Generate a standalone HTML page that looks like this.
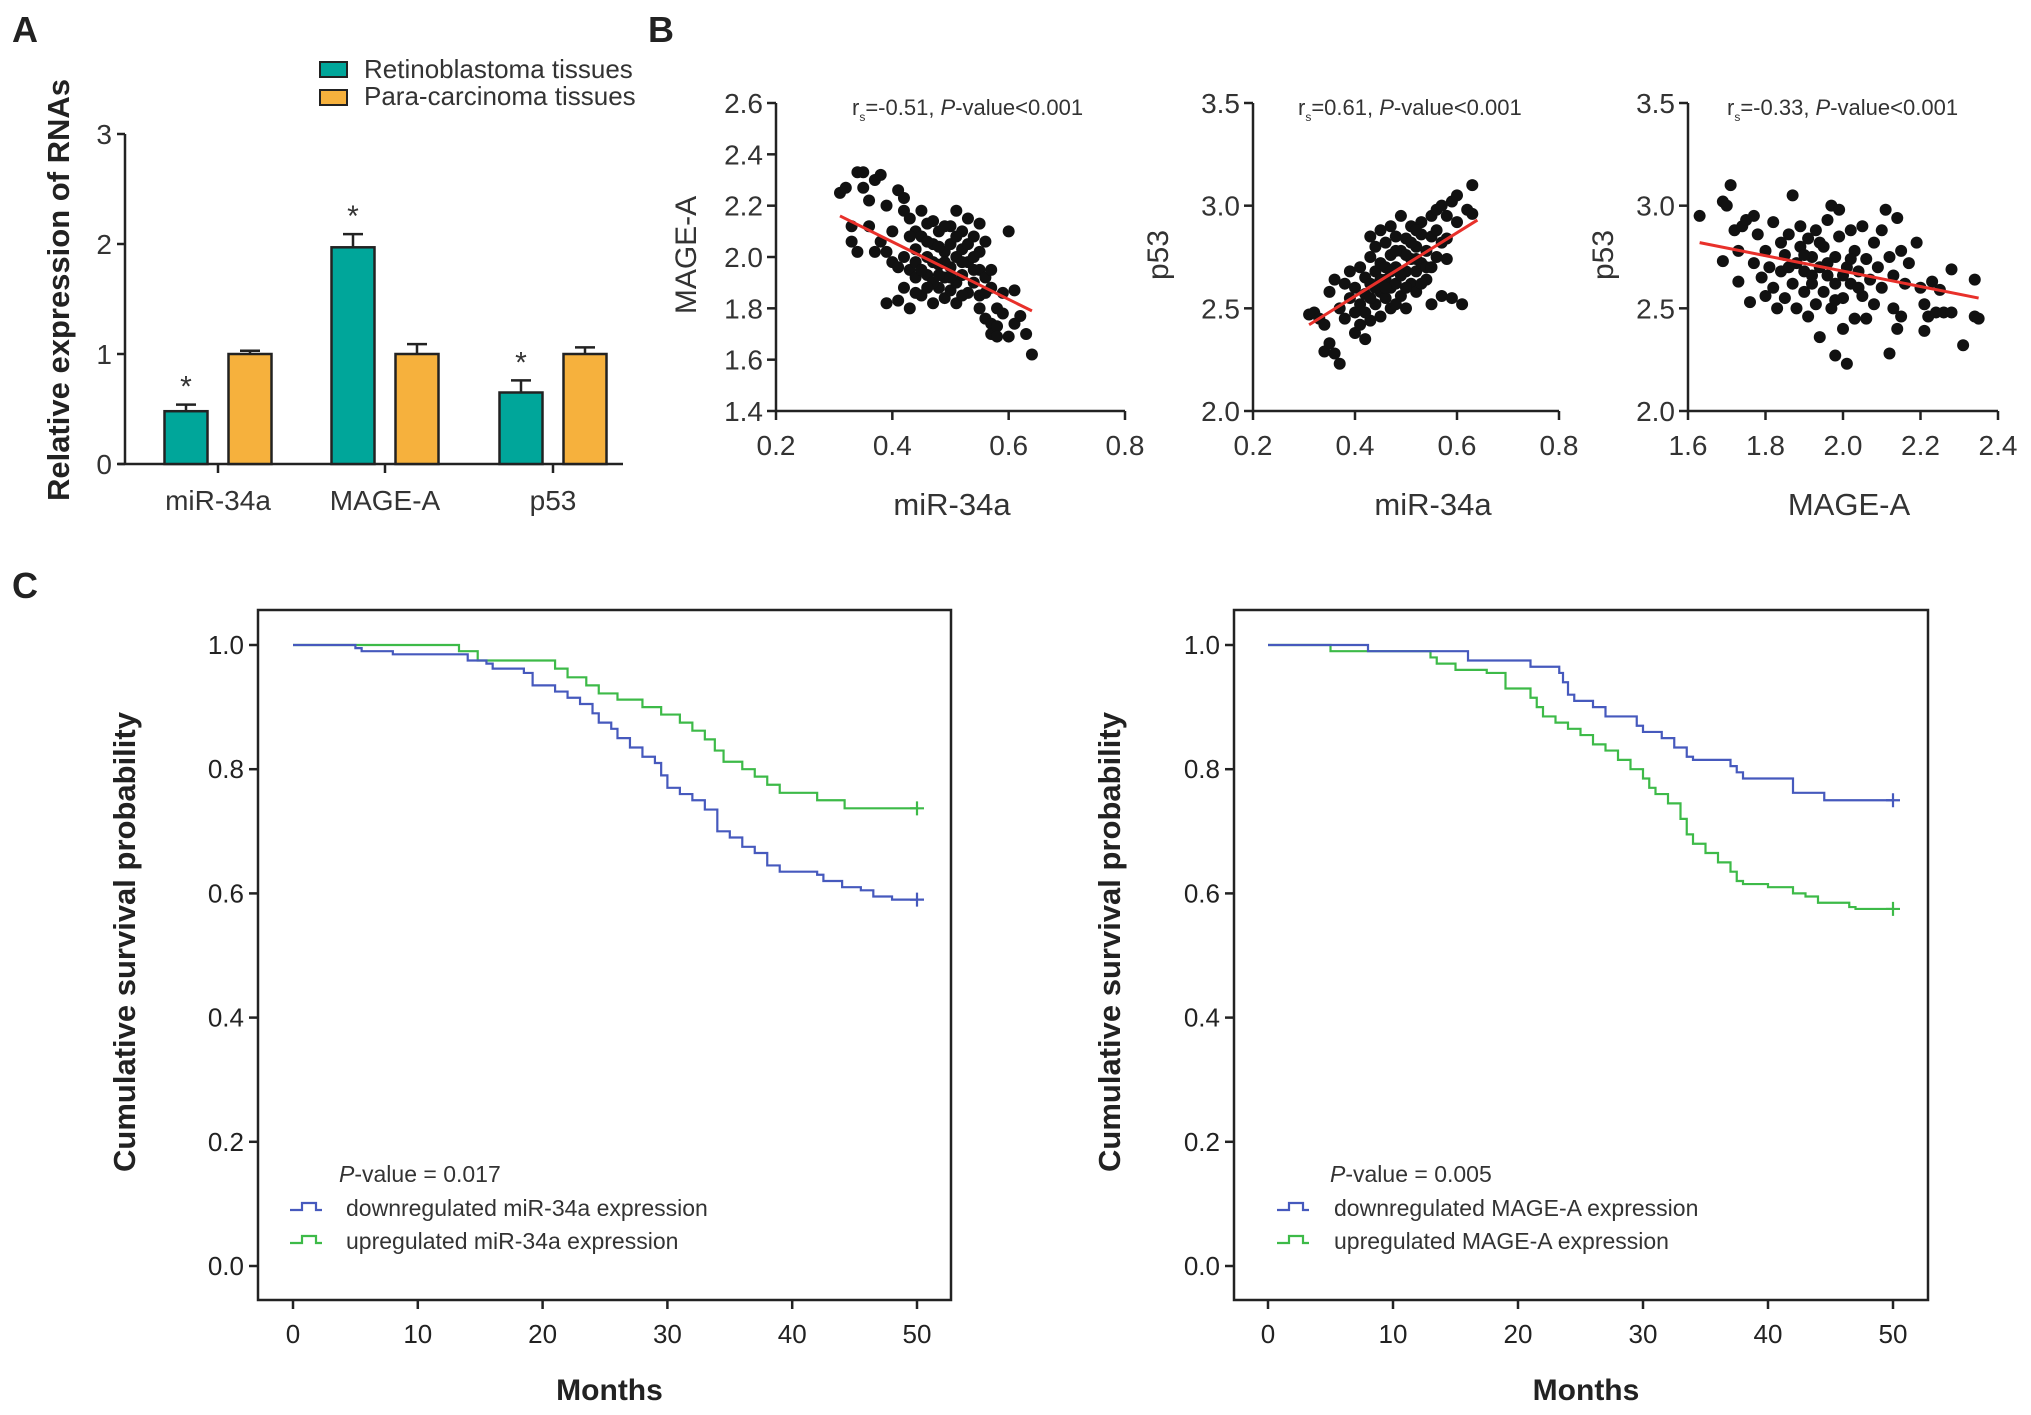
<!DOCTYPE html>
<html><head><meta charset="utf-8">
<style>
html,body{margin:0;padding:0;background:#fff;}
svg{display:block;font-family:"Liberation Sans",Arial,sans-serif;}
</style></head>
<body>
<svg id="fig" width="2031" height="1415" viewBox="0 0 2031 1415" xmlns="http://www.w3.org/2000/svg">
<text x="12" y="42" font-size="36" font-weight="bold" fill="#222">A</text>
<text x="648" y="42" font-size="36" font-weight="bold" fill="#222">B</text>
<text x="12" y="598" font-size="36" font-weight="bold" fill="#222">C</text>
<g id="gA"></g>
<g id="gB"></g>
<g id="gC"></g>
</svg>
<script>
// ---------- Panel A data ----------
const barCategories = ["miR-34a","MAGE-A","p53"];
const retinoValues = [0.48,1.97,0.65];
const retinoErrors = [0.06,0.12,0.11];
const paraValues = [1.0,1.0,1.0];
const paraErrors = [0.03,0.09,0.06];
const barYTicks = [0,1,2,3];

// ---------- Panel B data ----------
const s1x=[0.31,0.32,0.34,0.35,0.35,0.37,0.38,0.36,0.33,0.33,0.34,0.36,0.39,0.41,0.42,0.42,0.40,0.39,0.40,0.39,0.41,0.42,0.43,0.43,0.43,0.44,0.44,0.44,0.45,0.45,0.45,0.46,0.46,0.46,0.47,0.47,0.47,0.48,0.48,0.48,0.49,0.49,0.49,0.50,0.50,0.50,0.50,0.51,0.51,0.51,0.51,0.52,0.52,0.52,0.53,0.53,0.53,0.54,0.54,0.54,0.55,0.55,0.55,0.56,0.56,0.56,0.57,0.57,0.57,0.58,0.58,0.58,0.59,0.59,0.60,0.60,0.61,0.61,0.62,0.63,0.64,0.42,0.43,0.44,0.45,0.46,0.47,0.48,0.49,0.50,0.51,0.52,0.53,0.54,0.55,0.56,0.44,0.46,0.48,0.41,0.38,0.37,0.57,0.55,0.52,0.47,0.49];
const s1y=[2.25,2.27,2.33,2.33,2.27,2.30,2.32,2.22,2.12,2.06,2.02,2.12,2.20,2.26,2.23,2.18,2.10,2.02,1.98,1.82,1.83,1.88,1.80,1.95,2.15,2.10,2.03,1.92,1.85,2.08,2.18,2.13,2.00,1.93,1.82,2.05,2.14,1.97,1.88,2.10,2.02,1.92,1.84,2.12,2.05,1.96,1.87,2.18,2.00,1.90,1.82,2.10,2.03,1.93,2.15,1.98,1.86,2.08,2.00,1.90,2.13,1.95,1.85,2.06,1.92,1.76,1.88,1.74,1.70,1.80,1.73,1.69,1.78,1.86,2.10,1.69,1.74,1.87,1.77,1.70,1.62,2.00,2.08,1.98,1.95,2.06,1.90,2.04,2.12,1.92,2.08,1.85,2.05,1.95,1.80,1.86,1.86,1.88,1.93,1.96,2.06,2.02,1.95,2.02,1.98,1.98,1.98];
const s2x=[0.31,0.32,0.33,0.34,0.34,0.35,0.36,0.37,0.35,0.36,0.37,0.38,0.38,0.39,0.39,0.40,0.40,0.40,0.41,0.41,0.41,0.42,0.42,0.42,0.43,0.43,0.43,0.43,0.44,0.44,0.44,0.45,0.45,0.45,0.45,0.46,0.46,0.46,0.47,0.47,0.47,0.47,0.48,0.48,0.48,0.49,0.49,0.49,0.50,0.50,0.50,0.51,0.51,0.51,0.52,0.52,0.52,0.53,0.53,0.53,0.54,0.54,0.55,0.55,0.55,0.56,0.56,0.56,0.57,0.57,0.57,0.58,0.58,0.59,0.59,0.60,0.60,0.61,0.62,0.63,0.63,0.44,0.46,0.48,0.50,0.52,0.54,0.49,0.47,0.51,0.53,0.45,0.43,0.42,0.55,0.58,0.50,0.48,0.46,0.52];
const s2y=[2.47,2.48,2.45,2.42,2.29,2.33,2.28,2.23,2.58,2.64,2.50,2.45,2.62,2.55,2.68,2.48,2.38,2.60,2.70,2.52,2.42,2.35,2.57,2.65,2.44,2.85,2.75,2.62,2.52,2.80,2.68,2.58,2.88,2.72,2.46,2.64,2.82,2.55,2.76,2.90,2.60,2.50,2.70,2.85,2.62,2.95,2.78,2.56,2.68,2.84,2.50,2.74,2.90,2.62,2.80,2.68,2.58,2.86,2.72,2.92,2.78,2.64,2.95,2.85,2.52,2.75,2.98,2.88,3.00,2.82,2.56,2.74,2.95,3.02,2.55,3.05,2.92,2.52,2.98,2.96,3.10,2.60,2.70,2.52,2.76,2.88,2.70,2.66,2.68,2.82,2.62,2.64,2.55,2.48,2.70,2.84,2.60,2.78,2.60,2.74];
const s3x=[1.63,1.69,1.70,1.71,1.69,1.72,1.73,1.73,1.74,1.75,1.77,1.76,1.77,1.78,1.79,1.80,1.80,1.81,1.82,1.82,1.83,1.84,1.84,1.85,1.85,1.86,1.87,1.87,1.88,1.88,1.89,1.89,1.90,1.90,1.91,1.91,1.92,1.92,1.93,1.93,1.94,1.94,1.95,1.95,1.96,1.96,1.97,1.97,1.98,1.98,1.98,1.99,1.99,2.00,2.00,2.01,2.01,2.02,2.02,2.03,2.03,2.04,2.05,2.05,2.06,2.06,2.07,2.08,2.08,2.09,2.10,2.10,2.11,2.12,2.12,2.13,2.13,2.14,2.14,2.15,2.15,2.16,2.17,2.19,2.20,2.21,2.21,2.22,2.23,2.24,2.25,2.26,2.28,2.28,2.31,2.34,2.34,2.35,1.90,1.94,1.96,2.00,2.04,1.86,1.92,2.02,1.98];
const s3y=[2.95,3.02,3.00,3.10,2.73,2.88,2.78,2.63,2.90,2.93,2.95,2.53,2.72,2.86,2.65,2.56,2.78,2.70,2.60,2.92,2.50,2.82,2.68,2.55,2.76,2.86,3.05,2.62,2.72,2.50,2.80,2.90,2.58,2.68,2.84,2.46,2.75,2.62,2.88,2.52,2.70,2.36,2.80,2.58,2.66,2.93,2.50,3.00,2.75,2.62,2.27,2.85,2.98,2.55,2.40,2.70,2.23,2.88,2.62,2.45,2.78,2.68,2.56,2.90,2.74,2.45,2.64,2.82,2.52,2.70,2.88,2.60,2.98,2.28,2.75,2.50,2.66,2.94,2.40,2.78,2.46,2.62,2.72,2.82,2.60,2.52,2.39,2.46,2.63,2.48,2.59,2.48,2.48,2.69,2.32,2.64,2.46,2.45,2.76,2.82,2.72,2.66,2.60,2.70,2.66,2.74,2.54];
const fit1=[[0.31,2.16],[0.64,1.79]];
const fit2=[[0.31,2.42],[0.64,2.93]];
const fit3=[[1.63,2.82],[2.35,2.55]];
const s1XTicks=[0.2,0.4,0.6,0.8], s1YTicks=[1.4,1.6,1.8,2.0,2.2,2.4,2.6];
const s2XTicks=[0.2,0.4,0.6,0.8], s2YTicks=[2.0,2.5,3.0,3.5];
const s3XTicks=[1.6,1.8,2.0,2.2,2.4], s3YTicks=[2.0,2.5,3.0,3.5];

// ---------- Panel C data ----------
const kmLeftDownT=[0,5,5.5,8,14,15.5,16,18.5,19.2,21,22,23,24,24.5,25.5,26,27,28,29,29.5,30,31,32,33,34,35,36,37,38,39,42,42.5,44,45.5,46.5,48];
const kmLeftDownS=[1.0,0.995,0.99,0.985,0.975,0.97,0.962,0.955,0.935,0.925,0.915,0.905,0.89,0.875,0.865,0.85,0.835,0.82,0.81,0.79,0.77,0.76,0.75,0.735,0.70,0.69,0.675,0.665,0.645,0.635,0.63,0.62,0.61,0.605,0.595,0.59];
const kmLeftUpT=[0,13.3,14.8,21,22,23.5,24.5,26,28,29.5,31,32,33,33.8,34.5,36,37,38,39,42,44.2];
const kmLeftUpS=[1.0,0.99,0.975,0.962,0.948,0.935,0.922,0.912,0.90,0.888,0.875,0.862,0.848,0.83,0.812,0.80,0.788,0.775,0.762,0.75,0.737];
const kmRightDownT=[0,8,16,21,23.3,23.6,24,24.5,26,27,29.5,30,31.5,32.5,33.5,34,37,37.5,38,42,44.5];
const kmRightDownS=[1.0,0.99,0.975,0.965,0.955,0.94,0.92,0.91,0.90,0.885,0.87,0.86,0.85,0.835,0.82,0.815,0.805,0.795,0.785,0.762,0.75];
const kmRightUpT=[0,5,13,13.5,15,17.5,19,21,21.5,22,23,24,25,26,27,28,29,30,30.5,31,32,33,33.5,34,35,36,37,37.5,38,40,42,43,44,46.5,47];
const kmRightUpS=[1.0,0.99,0.98,0.97,0.96,0.955,0.93,0.915,0.90,0.885,0.875,0.865,0.855,0.84,0.83,0.815,0.80,0.785,0.77,0.76,0.745,0.72,0.695,0.68,0.665,0.65,0.635,0.62,0.615,0.61,0.60,0.595,0.585,0.578,0.575];
const kmXTicks=[0,10,20,30,40,50];
const kmYTicks=[0,0.2,0.4,0.6,0.8,1.0];

const NS="http://www.w3.org/2000/svg";
function mk(parent,tag,attrs,txt){const e=document.createElementNS(NS,tag);for(const k in attrs)e.setAttribute(k,attrs[k]);if(txt!==undefined)e.textContent=txt;parent.appendChild(e);return e;}
const AX="#222";

// ========== Panel A ==========
(function(){
 const g=document.getElementById('gA');
 const yZero=464, unit=110, axX=125;
 const ys=v=>yZero-v*unit;
 const centers=[218,385,553];
 const bw=43, off=32;
 let e;
 e=mk(g,'line',{x1:axX,y1:ys(3),x2:axX,y2:yZero,stroke:AX,'stroke-width':2.5});
 
 e=mk(g,'line',{x1:118,y1:yZero,x2:623,y2:yZero,stroke:AX,'stroke-width':2.5});
 
 barYTicks.forEach(t=>{
  e=mk(g,'line',{x1:axX-8,y1:ys(t),x2:axX,y2:ys(t),stroke:AX,'stroke-width':2.5});
  
  e=mk(g,'text',{x:axX-13,y:ys(t)+10,'font-size':28,'text-anchor':'end',fill:'#333'},String(t));
  
 });
 barCategories.forEach((c,i)=>{
  const cx=centers[i];
  e=mk(g,'line',{x1:cx,y1:yZero,x2:cx,y2:yZero+9,stroke:AX,'stroke-width':2.5});
  
  e=mk(g,'text',{x:cx,y:510,'font-size':28,'text-anchor':'middle',fill:'#333'},c);
  
  const rx=cx-off-bw/2;
  e=mk(g,'line',{x1:cx-off,y1:ys(retinoValues[i]),x2:cx-off,y2:ys(retinoValues[i]+retinoErrors[i]),stroke:AX,'stroke-width':2.5});
  
  e=mk(g,'line',{x1:cx-off-10,y1:ys(retinoValues[i]+retinoErrors[i]),x2:cx-off+10,y2:ys(retinoValues[i]+retinoErrors[i]),stroke:AX,'stroke-width':2.5});
  
  e=mk(g,'rect',{x:rx,y:ys(retinoValues[i]),width:bw,height:retinoValues[i]*unit,fill:'#00a69a',stroke:AX,'stroke-width':2.5});
  
  e=mk(g,'text',{x:cx-off,y:ys(retinoValues[i]+retinoErrors[i])-8,'font-size':30,'text-anchor':'middle',fill:'#333'},'*');
  
  const px=cx+off-bw/2;
  const pc=px+bw/2;
  e=mk(g,'line',{x1:pc,y1:ys(paraValues[i]),x2:pc,y2:ys(paraValues[i]+paraErrors[i]),stroke:AX,'stroke-width':2.5});
  
  e=mk(g,'line',{x1:pc-10,y1:ys(paraValues[i]+paraErrors[i]),x2:pc+10,y2:ys(paraValues[i]+paraErrors[i]),stroke:AX,'stroke-width':2.5});
  
  e=mk(g,'rect',{x:px,y:ys(paraValues[i]),width:bw,height:paraValues[i]*unit,fill:'#f6b13d',stroke:AX,'stroke-width':2.5});
  
 });
 e=mk(g,'text',{x:0,y:0,'font-size':31,'font-weight':'bold','text-anchor':'middle',fill:'#222',transform:'translate(69,290) rotate(-90)'},'Relative expression of RNAs');
 
 e=mk(g,'rect',{x:320,y:62,width:27,height:15,fill:'#00a69a',stroke:AX,'stroke-width':2});
 
 e=mk(g,'text',{x:364,y:78,'font-size':26,fill:'#333'},'Retinoblastoma tissues');
 
 e=mk(g,'rect',{x:320,y:90,width:27,height:15,fill:'#f6b13d',stroke:AX,'stroke-width':2});
 
 e=mk(g,'text',{x:364,y:105,'font-size':26,fill:'#333'},'Para-carcinoma tissues');
 
})();

// ========== Panel B ==========
function scatter(cfg){
 const g=document.getElementById('gB');
 const sx=v=>cfg.x0+(v-cfg.xmin)/(cfg.xmax-cfg.xmin)*(cfg.x1-cfg.x0);
 const sy=v=>cfg.yb-(v-cfg.ymin)/(cfg.ymax-cfg.ymin)*(cfg.yb-cfg.yt);
 let e;
 e=mk(g,'line',{x1:cfg.x0,y1:cfg.yt,x2:cfg.x0,y2:cfg.yb,stroke:AX,'stroke-width':2.5});
 
 e=mk(g,'line',{x1:cfg.x0,y1:cfg.yb,x2:cfg.x1,y2:cfg.yb,stroke:AX,'stroke-width':2.5});
 
 cfg.yt_.forEach(t=>{
  e=mk(g,'line',{x1:cfg.x0-9,y1:sy(t),x2:cfg.x0,y2:sy(t),stroke:AX,'stroke-width':2.5});
  
  e=mk(g,'text',{x:cfg.x0-13,y:sy(t)+10,'font-size':28,'text-anchor':'end',fill:'#333'},t.toFixed(1));
  
 });
 cfg.xt_.forEach(t=>{
  e=mk(g,'line',{x1:sx(t),y1:cfg.yb,x2:sx(t),y2:cfg.yb+9,stroke:AX,'stroke-width':2.5});
  
  e=mk(g,'text',{x:sx(t),y:cfg.yb+44,'font-size':28,'text-anchor':'middle',fill:'#333'},t.toFixed(1));
  
 });
 cfg.xs.forEach((v,i)=>{
  e=mk(g,'circle',{cx:sx(v),cy:sy(cfg.ys[i]),r:6,fill:'#111'});
  
 });
 e=mk(g,'line',{x1:sx(cfg.fit[0][0]),y1:sy(cfg.fit[0][1]),x2:sx(cfg.fit[1][0]),y2:sy(cfg.fit[1][1]),stroke:'#e8302a','stroke-width':3});
 
 e=mk(g,'text',{x:0,y:0,'font-size':30,'text-anchor':'middle',fill:'#333',transform:`translate(${cfg.ylx},255) rotate(-90)`},cfg.ylabel);
 
 e=mk(g,'text',{x:cfg.xlx,y:515,'font-size':31,'text-anchor':'middle',fill:'#333'},cfg.xlabel);
 
 const t=mk(g,'text',{x:cfg.ax,y:115,'font-size':22,fill:'#333'});
 
 mk(t,'tspan',{},'r');
 mk(t,'tspan',{'font-size':12,dy:6},'s');
 mk(t,'tspan',{dy:-6},cfg.rs+', ');
 mk(t,'tspan',{'font-style':'italic'},'P');
 mk(t,'tspan',{},'-value<0.001');
}
scatter({name:'scatter-mir-mage',x0:776,x1:1125,xmin:0.2,xmax:0.8,yt:103,yb:411,ymin:1.4,ymax:2.6,xt_:s1XTicks,yt_:s1YTicks,xs:s1x,ys:s1y,fit:fit1,ylabel:'MAGE-A',ylx:696,xlabel:'miR-34a',xlx:952,ax:852,rs:'=-0.51'});
scatter({name:'scatter-mir-p53',x0:1253,x1:1559,xmin:0.2,xmax:0.8,yt:103,yb:411,ymin:2.0,ymax:3.5,xt_:s2XTicks,yt_:s2YTicks,xs:s2x,ys:s2y,fit:fit2,ylabel:'p53',ylx:1168,xlabel:'miR-34a',xlx:1433,ax:1298,rs:'=0.61'});
scatter({name:'scatter-mage-p53',x0:1688,x1:1998,xmin:1.6,xmax:2.4,yt:103,yb:411,ymin:2.0,ymax:3.5,xt_:s3XTicks,yt_:s3YTicks,xs:s3x,ys:s3y,fit:fit3,ylabel:'p53',ylx:1613,xlabel:'MAGE-A',xlx:1849,ax:1727,rs:'=-0.33'});

// ========== Panel C ==========
function km(cfg){
 const g=document.getElementById('gC');
 const sx=v=>cfg.x0+v/50*(cfg.x50-cfg.x0);
 const sy=v=>1266-v*621;
 let e;
 e=mk(g,'rect',{x:cfg.bl,y:610,width:cfg.br-cfg.bl,height:690,fill:'none',stroke:AX,'stroke-width':2.5});
 
 kmYTicks.forEach(t=>{
  e=mk(g,'line',{x1:cfg.bl-9,y1:sy(t),x2:cfg.bl,y2:sy(t),stroke:AX,'stroke-width':2.5});
  
  e=mk(g,'text',{x:cfg.bl-14,y:sy(t)+9,'font-size':26,'text-anchor':'end',fill:'#222'},t.toFixed(1));
  
 });
 kmXTicks.forEach(t=>{
  e=mk(g,'line',{x1:sx(t),y1:1300,x2:sx(t),y2:1309,stroke:AX,'stroke-width':2.5});
  
  e=mk(g,'text',{x:sx(t),y:1343,'font-size':26,'text-anchor':'middle',fill:'#222'},String(t));
  
 });
 function curve(T,S,color,nm){
  let d=`M${sx(T[0])},${sy(S[0])}`;
  for(let i=1;i<T.length;i++){d+=` H${sx(T[i])} V${sy(S[i])}`;}
  d+=` H${sx(50)}`;
  let p=mk(g,'path',{d:d,fill:'none',stroke:color,'stroke-width':2.2});
  
  const ye=sy(S[S.length-1]);
  p=mk(g,'path',{d:`M${sx(50)-7},${ye} H${sx(50)+7} M${sx(50)},${ye-7} V${ye+7}`,stroke:color,'stroke-width':2.2});
  
 }
 curve(cfg.upT,cfg.upS,'#3dba48',cfg.name+'-upregulated-curve');
 curve(cfg.downT,cfg.downS,'#4659bd',cfg.name+'-downregulated-curve');
 e=mk(g,'text',{x:0,y:0,'font-size':31,'font-weight':'bold','text-anchor':'middle',fill:'#222',transform:`translate(${cfg.ylx},942) rotate(-90)`},'Cumulative survival probability');
 
 e=mk(g,'text',{x:(cfg.bl+cfg.br)/2+5,y:1400,'font-size':30,'font-weight':'bold','text-anchor':'middle',fill:'#222'},'Months');
 
 const pt=mk(g,'text',{x:cfg.px,y:1182,'font-size':23,fill:'#333'});
 
 mk(pt,'tspan',{'font-style':'italic'},'P');
 mk(pt,'tspan',{},'-value = '+cfg.p);
 e=mk(g,'path',{d:`M${cfg.lx},1210 h12 v-7 h14 v7 h6`,fill:'none',stroke:'#4659bd','stroke-width':2.2});
 
 e=mk(g,'text',{x:cfg.tx,y:1216,'font-size':23,fill:'#333'},'downregulated '+cfg.gene+' expression');
 
 e=mk(g,'path',{d:`M${cfg.lx},1243 h12 v-7 h14 v7 h6`,fill:'none',stroke:'#3dba48','stroke-width':2.2});
 
 e=mk(g,'text',{x:cfg.tx,y:1249,'font-size':23,fill:'#333'},'upregulated '+cfg.gene+' expression');
 
}
km({name:'km-mir34a',bl:258,br:951,x0:293,x50:917,downT:kmLeftDownT,downS:kmLeftDownS,upT:kmLeftUpT,upS:kmLeftUpS,ylx:135,px:339,lx:290,tx:346,p:'0.017',gene:'miR-34a'});
km({name:'km-mage-a',bl:1234,br:1928,x0:1268,x50:1893,downT:kmRightDownT,downS:kmRightDownS,upT:kmRightUpT,upS:kmRightUpS,ylx:1120,px:1330,lx:1277,tx:1334,p:'0.005',gene:'MAGE-A'});
</script>
</body></html>
